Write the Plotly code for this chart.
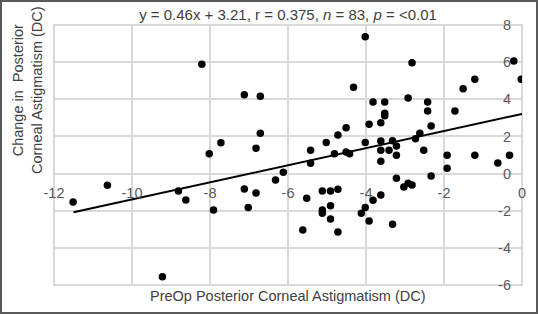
import plotly.graph_objects as go

preop_dc = [-11.51, -10.63, -9.22, -8.81, -8.62, -8.02, -7.91, -7.12, -6.82, -7.02,
            -6.82, -8.21, -7.12, -6.71, -6.71, -7.72, -6.32, -6.12, -4.02, -2.82,
            -4.32, -0.21, -0.02, -1.21, -1.51, -3.82, -3.52, -2.92, -2.42, -3.52,
            -3.52, -2.42, -1.72, -3.92, -3.62, -2.33, -4.51, -4.72, -5.02, -4.02,
            -3.62, -3.32, -2.62, -2.73, -5.42, -4.81, -4.51, -4.42, -3.62, -3.41,
            -3.22, -3.22, -2.52, -1.92, -1.21, -0.32, -5.42, -5.52, -5.12, -4.91,
            -4.72, -5.12, -5.12, -4.91, -4.91, -5.62, -4.72, -4.12, -4.02, -3.82,
            -3.62, -3.92, -3.32, -3.22, -3.03, -2.92, -2.82, -2.33, -1.92, -0.62,
            -3.62]
change_dc = [-1.53, -0.63, -5.55, -0.94, -1.42, 1.07, -1.96, -0.83, -1.04, -1.83,
             1.36, 5.88, 4.25, 4.16, 2.17, 1.66, -0.34, 0.07, 7.37, 5.97,
             4.65, 6.06, 5.08, 5.08, 4.57, 3.86, 3.86, 4.07, 3.86, 3.25,
             3.12, 3.37, 3.37, 2.65, 2.74, 2.56, 2.47, 2.08, 1.67, 1.67,
             1.76, 1.77, 2.17, 1.88, 1.25, 1.07, 1.16, 1.07, 1.25, 1.25,
             1.49, 0.98, 1.25, 0.98, 0.98, 0.98, 0.55, -1.33, -0.94, -0.94,
             -0.85, -1.96, -2.14, -1.73, -2.45, -3.04, -3.14, -2.14, -1.83, -1.44,
             -1.15, -2.55, -2.73, -0.25, -0.72, -0.52, -0.61, -0.13, 0.28, 0.57,
             0.66]

slope = 0.46
intercept = 3.21
fit_x = [-11.5, 0.0]
fit_y = [slope * v + intercept for v in fit_x]

x_ticks = [-12, -10, -8, -6, -4, -2, 0]
y_ticks = [-6, -4, -2, 0, 2, 4, 6, 8]

W, H = 538, 314
ml, mr, mt, mb = 54, 16, 25, 29
pw = W - ml - mr
ph = H - mt - mb

fig = go.Figure()
fig.add_trace(go.Scatter(x=preop_dc, y=change_dc, mode="markers",
                         marker=dict(color="black", size=7.5), showlegend=False))
fig.add_trace(go.Scatter(x=fit_x, y=fit_y, mode="lines",
                         line=dict(color="black", width=2), showlegend=False))

grid = "#d9d9d9"
fam = "Liberation Sans, Arial, sans-serif"
tickfont = dict(family=fam, size=14.5, color="#595959")

fig.update_layout(
    width=W, height=H,
    margin=dict(l=ml, r=mr, t=mt, b=mb, autoexpand=False),
    paper_bgcolor="white", plot_bgcolor="white",
    font=dict(family=fam, color="#404040"),
    title=dict(text="y = 0.46x + 3.21, r = 0.375, <i>n</i> = 83, <i>p</i> = <0.01",
               x=0.5, xref="paper", xanchor="center",
               y=1 - 15 / H, yref="container", yanchor="middle",
               font=dict(size=15, color="#404040")),
    xaxis=dict(range=[-12, 0], tickvals=x_ticks, ticktext=[str(v) for v in x_ticks],
               showgrid=True, gridcolor=grid, gridwidth=2,
               zeroline=True, zerolinecolor=grid, zerolinewidth=2,
               showline=False, ticks="", anchor="free", position=6 / 14,
               side="bottom", ticklabelstandoff=9, tickfont=tickfont, automargin=False),
    yaxis=dict(range=[-6, 8], tickvals=y_ticks, ticktext=[str(v) for v in y_ticks],
               showgrid=True, gridcolor=grid, gridwidth=2,
               zeroline=True, zerolinecolor=grid, zerolinewidth=2,
               showline=False, ticks="", anchor="free", position=1,
               side="left", ticklabelstandoff=11, tickfont=tickfont, automargin=False),
    shapes=[
        dict(type="rect", xref="x domain", yref="y domain", x0=0, x1=1, y0=0, y1=1,
             line=dict(color=grid, width=2), layer="below"),
        dict(type="rect", xref="paper", yref="paper",
             x0=-(ml - 1) / pw, x1=1 + (mr - 1) / pw,
             y0=-(mb - 1) / ph, y1=1 + (mt - 1) / ph,
             line=dict(color="#595959", width=2), layer="above"),
    ],
    annotations=[
        dict(text="PreOp Posterior Corneal Astigmatism (DC)", xref="paper", yref="paper",
             x=0.5, y=-(296 - (H - mb)) / ph, xanchor="center", yanchor="middle",
             showarrow=False, font=dict(size=14.5, color="#404040")),
        dict(text="Change in  Posterior<br>Corneal Astigmatism (DC)", xref="paper", yref="paper",
             x=-(ml - 27) / pw, y=1 - (90 - mt) / ph, xanchor="center", yanchor="middle",
             textangle=-90, showarrow=False, font=dict(size=14.5, color="#404040")),
    ],
)

fig.write_html("out.html",
               config={"displayModeBar": False},
               post_script="document.body.style.margin='0';document.body.style.padding='0';")
